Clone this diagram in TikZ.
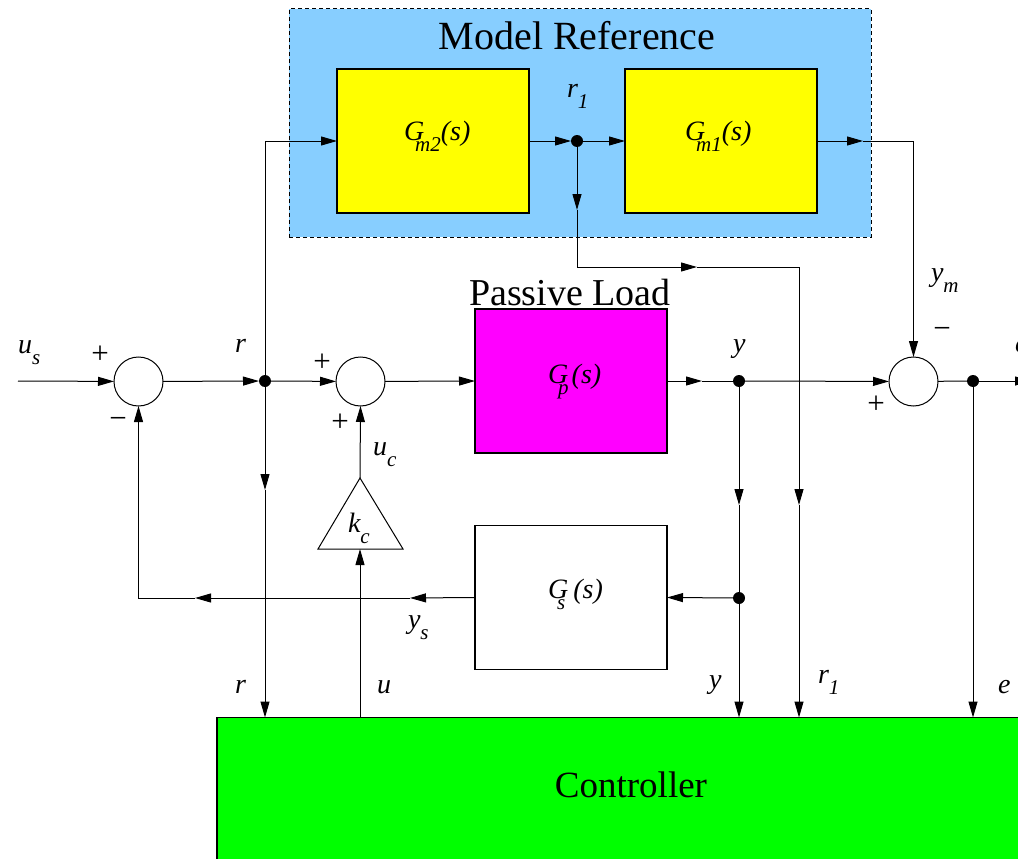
\documentclass[tikz,border=0pt]{standalone}
\usepackage{fontspec}
\setmainfont{Liberation Serif}
\usetikzlibrary{arrows.meta}
\definecolor{ltblue}{RGB}{135,206,255}
\definecolor{ctlgreen}{RGB}{0,255,0}
\definecolor{plmag}{RGB}{255,0,255}
\definecolor{mdyellow}{RGB}{255,255,0}
\newcommand\sbs[1]{\raisebox{-11pt}{\fontsize{21}{24}\selectfont #1}}
\tikzset{
  every node/.style={inner sep=0pt, outer sep=0pt},
  lab/.style={font=\fontsize{28}{32}\selectfont\itshape, anchor=base west},
  sign/.style={font=\fontsize{31}{34}\selectfont},
  big/.style={anchor=base},
  blk/.style={draw, line width=1.1pt, minimum width=192pt, minimum height=144pt},
  sumj/.style={circle, draw, line width=1pt, minimum size=49pt},
  jdot/.style={circle, fill, minimum size=12pt},
  arr/.style={-{Triangle[length=16pt,width=9pt]}},
}
\begin{document}
\begin{tikzpicture}[x=1pt, y=-1pt, line width=1pt]
\useasboundingbox (0,0) rectangle (1018,859);
\clip (0,0) rectangle (1018,859);

% model reference block
\node[draw, fill=ltblue, line width=1pt, dash pattern=on 4pt off 3pt,
      minimum width=582pt, minimum height=228pt] (mref) at (580,123) {};
\node[big, font=\fontsize{40}{46}\selectfont] (mreft) at (577,50) {Model Reference};
\node[blk, fill=mdyellow] (gm2) at (433,141) {};
\node[blk, fill=mdyellow] (gm1) at (721,141) {};
\node[lab] (gm2t) at (404,140) {G\kern-9pt\sbs{m2}(s)};
\node[lab] (gm1t) at (685,140) {G\kern-9pt\sbs{m1}(s)};

% plant
\node[big, font=\fontsize{38}{44}\selectfont] (plt) at (570,305) {Passive Load};
\node[blk, fill=plmag] (gp) at (571,381) {};
\node[lab] (gpt) at (548,383) {G\kern-10pt\sbs{p}\kern3pt(s)};

% sensor
\node[blk, fill=white] (gs) at (571,597.5) {};
\node[lab] (gst) at (548,598) {G\kern-11pt\sbs{s}\kern8pt(s)};

% controller
\node[draw, fill=ctlgreen, line width=1.1pt, anchor=north west,
      minimum width=900pt, minimum height=200pt] (ctrl) at (217,717.5) {};
\node[big, font=\fontsize{37}{42}\selectfont] (ctrlt) at (631,797) {Controller};

% summing junctions and dots
\node[sumj] (s1) at (138.5,381.5) {};
\node[sumj] (s2) at (360.5,381.5) {};
\node[sumj] (s3) at (913.5,381.5) {};
\node[jdot] (rdot) at (265,381) {};
\node[jdot] (ydot) at (739,381) {};
\node[jdot] (edot) at (973,381) {};
\node[jdot] (r1dot) at (577,141) {};
\node[jdot] (ydot2) at (739,598) {};

% gain triangle
\coordinate (kctop) at (360,478);
\coordinate (kcbot) at (360,549);
\draw (318,549) -- (kctop) -- (403,549) -- cycle;
\node[lab] (kct) at (348,532) {k\sbs{c}};

% coordinates for mid-line arrows
\coordinate (usin) at (18,381);
\coordinate (eout) at (1031,381);
\coordinate (gpA) at (702,381);
\coordinate (rA) at (265,490);
\coordinate (r1a) at (577,210);
\coordinate (r1c) at (697,267);
\coordinate (r1e) at (799,505);
\coordinate (ymA) at (863,141);
\coordinate (yA) at (739,505);
\coordinate (fbA) at (410,598);
\coordinate (fbB) at (195,598);

% main path
\draw[arr] (usin) -- (s1);
\draw[arr] (s1) -- (rdot);
\draw[arr] (rdot) -- (s2);
\draw[arr] (s2) -- (gp.west);
\draw[arr] (gp.east) -- (gpA);
\draw (gpA) -- (ydot);
\draw[arr] (ydot) -- (s3);
\draw (s3) -- (edot);
\draw[arr] (edot) -- (eout);

% reference model paths
\draw[arr] (rdot) |- (gm2.west);
\draw[arr] (gm2.east) -- (r1dot);
\draw[arr] (r1dot) -- (gm1.west);
\draw[arr] (gm1.east) -- (ymA);
\draw[arr] (ymA) -| (s3.north);
\draw[arr] (r1dot) -- (r1a);
\draw[arr] (r1a) |- (r1c);
\draw[arr] (r1c) -| (r1e);
\draw[arr] (r1e) -- (r1e |- ctrl.north);

% controller inputs
\draw[arr] (rdot) -- (rA);
\draw[arr] (rA) -- (rA |- ctrl.north);
\draw[arr] (ydot) -- (yA);
\draw (yA) -- (ydot2);
\draw[arr] (ydot2) -- (ydot2 |- ctrl.north);
\draw[arr] (edot) -- (edot |- ctrl.north);

% sensor feedback
\draw[arr] (ydot2) -- (gs.east);
\draw[arr] (gs.west) -- (fbA);
\draw[arr] (fbA) -- (fbB);
\draw[arr] (fbB) -| (s1.south);

% control output
\draw[arr] (kcbot |- ctrl.north) -- (kcbot);
\draw[arr] (kctop) -- (s2.south);

% signs
\node[sign] (p1) at (100,355) {+};
\node[sign] (m1) at (118,423) {−};
\node[sign] (p2) at (322,363) {+};
\node[sign] (p3) at (340,423) {+};
\node[sign] (m3) at (942,333) {−};
\node[sign] (p4) at (876,405) {+};

% signal labels
\node[lab] (lus) at (18,353) {u\sbs{s}};
\node[lab] (lr) at (235,352) {r};
\node[lab] (luc) at (373,455) {u\sbs{c}};
\node[lab] (ly) at (733,352) {y};
\node[lab] (le) at (1015,352) {e};
\node[lab] (lym) at (931,281) {y\sbs{m}};
\node[lab] (lr1) at (567,98) {r\sbs{1}};
\node[lab] (lys) at (408,628) {y\sbs{s}};
\node[lab] (lrb) at (235,693) {r};
\node[lab] (lub) at (377,693) {u};
\node[lab] (lyb) at (709,688) {y};
\node[lab] (lr1b) at (818,683) {r\sbs{1}};
\node[lab] (leb) at (998,693) {e};
\end{tikzpicture}
\end{document}
